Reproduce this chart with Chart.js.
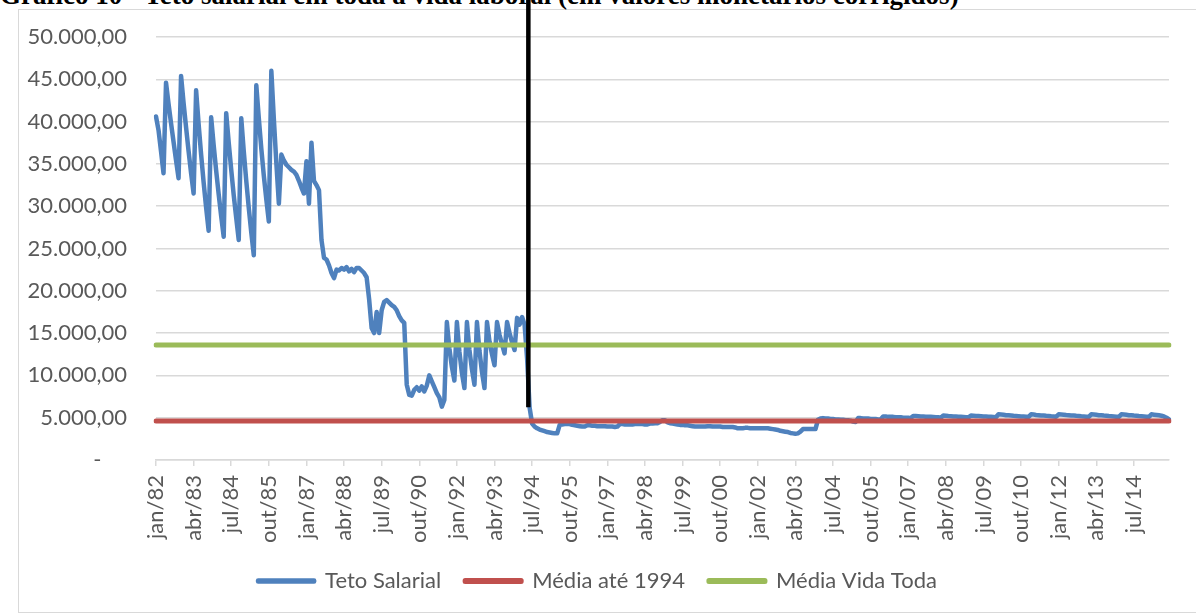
<!DOCTYPE html>
<html>
<head>
<meta charset="utf-8">
<script src="https://cdn.jsdelivr.net/npm/chart.js"></script>
<style>
  html, body { margin: 0; padding: 0; background: #fff; overflow: hidden; }
  #wrap { position: relative; width: 1196px; height: 614px; overflow: hidden; }
  #moldura { position: absolute; left: 18px; top: 9px; width: 1200px; height: 602px; border: 1px solid #d9d9d9; }
  #titulo { position: absolute; left: 0; top: -18px; font: bold 27px "Liberation Serif", "Times New Roman", serif; line-height: 27px; white-space: nowrap; color: #000; }
  #grafico { position: absolute; left: 0; top: 0; }
</style>
</head>
<body>
<div id="wrap">
  <div id="moldura"></div>
  <div id="titulo">Gráfico 10 - Teto salarial em toda a vida laboral (em valores monetários corrigidos)</div>
  <canvas id="grafico" width="1196" height="614"></canvas>
</div>
<script>
// meses do eixo x (jan/82 ... set/15)
const nomesMes = ['jan', 'fev', 'mar', 'abr', 'mai', 'jun', 'jul', 'ago', 'set', 'out', 'nov', 'dez'];
const anoInicial = 1982;

// teto salarial mensal, valores corrigidos, uma linha por ano
const tetoSalarial = [
  40600, 39000, 36500, 33900, 44600, 42100, 39800, 37600, 35400, 33300, 45400, 42200, // 1982
  39300, 36500, 33900, 31500, 43700, 39700, 36100, 32800, 29800, 27100, 40500, 37200, // 1983
  34200, 31400, 28800, 26400, 41000, 37500, 34300, 31300, 28600, 26000, 40400, 36500, // 1984
  33000, 29800, 26900, 24200, 44300, 40400, 36800, 33600, 30800, 28200, 46000, 40300, // 1985
  35100, 30300, 36100, 35400, 34900, 34600, 34300, 34100, 33700, 33000, 32200, 31500, // 1986
  35300, 30300, 37500, 33000, 32500, 31900, 26000, 23900, 23700, 23000, 22100, 21500, // 1987
  22500, 22400, 22700, 22500, 22800, 22300, 22600, 22200, 22700, 22700, 22400, 22100, // 1988
  21600, 19000, 15600, 15000, 17500, 15000, 17700, 18700, 18900, 18600, 18300, 18100, // 1989
  17700, 17000, 16500, 16200, 8900, 7700, 7600, 8300, 8600, 8200, 8700, 8100,         // 1990
  8800, 10000, 9300, 8600, 7900, 7400, 6300, 7100, 16300, 13200, 11000, 9400,         // 1991
  16300, 12800, 10300, 8500, 16300, 13000, 10700, 8900, 16300, 12900, 10400, 8500,     // 1992
  16300, 14000, 12500, 11200, 16300, 14800, 13700, 12600, 16300, 15000, 13900, 13000,  // 1993
  16800, 16000, 16900, 16000, 12000, 6200, 4300, 3950, 3750, 3600, 3500, 3400,         // 1994
  3300, 3250, 3200, 3150, 3150, 4150, 4200, 4250, 4250, 4250, 4150, 4100,             // 1995
  4050, 4000, 3950, 3950, 4100, 4100, 4050, 4050, 4000, 4000, 4000, 4000,             // 1996
  3950, 3950, 3950, 3900, 3950, 4250, 4250, 4200, 4200, 4200, 4200, 4250,             // 1997
  4250, 4250, 4250, 4200, 4200, 4300, 4300, 4350, 4350, 4500, 4700, 4700,             // 1998
  4450, 4350, 4300, 4250, 4200, 4150, 4150, 4100, 4100, 4050, 4000, 3950,             // 1999
  3950, 3950, 3950, 3950, 4000, 4000, 3950, 3950, 3950, 3950, 3900, 3900,             // 2000
  3900, 3900, 3900, 3850, 3750, 3750, 3750, 3800, 3800, 3750, 3750, 3750,             // 2001
  3750, 3750, 3750, 3750, 3750, 3700, 3650, 3600, 3550, 3450, 3400, 3350,             // 2002
  3300, 3200, 3150, 3100, 3150, 3350, 3650, 3650, 3650, 3650, 3650, 3650,             // 2003
  4750, 4900, 4950, 4900, 4900, 4850, 4850, 4800, 4800, 4750, 4750, 4700,             // 2004
  4700, 4650, 4550, 4500, 4950, 4950, 4900, 4900, 4900, 4850, 4850, 4850,             // 2005
  4800, 4800, 5150, 5150, 5100, 5100, 5100, 5050, 5050, 5050, 5000, 5000,             // 2006
  5000, 4950, 5200, 5200, 5180, 5150, 5150, 5120, 5100, 5100, 5080, 5050,             // 2007
  5050, 5000, 5250, 5230, 5200, 5180, 5150, 5150, 5120, 5100, 5080, 5050,             // 2008
  5050, 5250, 5230, 5200, 5200, 5180, 5150, 5150, 5120, 5100, 5080, 5050,             // 2009
  5400, 5380, 5350, 5300, 5280, 5250, 5220, 5200, 5180, 5150, 5130, 5100,             // 2010
  5100, 5400, 5370, 5330, 5300, 5270, 5250, 5220, 5200, 5170, 5150, 5120,             // 2011
  5400, 5380, 5350, 5320, 5300, 5270, 5250, 5220, 5200, 5170, 5150, 5120,             // 2012
  5100, 5400, 5370, 5340, 5300, 5280, 5250, 5230, 5200, 5180, 5150, 5120,             // 2013
  5100, 5400, 5370, 5340, 5300, 5280, 5250, 5230, 5200, 5180, 5150, 5120,             // 2014
  5100, 5400, 5360, 5320, 5280, 5230, 5150, 5000, 4800                                // 2015
];

// médias (linhas horizontais)
const mediaAte1994 = 4600;
const mediaVidaToda = 13600;

// marco vertical (Plano Real), entre mai/94 e jun/94
const marcoPosicao = 148.5;
const marcoValorInferior = 6250;

const meses = [];
for (let i = 0; i < tetoSalarial.length; i++) {
  const ano = anoInicial + Math.floor(i / 12);
  meses.push(nomesMes[i % 12] + '/' + String(ano).slice(2));
}

function formatarReais(v) {
  if (v === 0) return '-\u2007\u2007';
  return String(v).replace(/\B(?=(\d{3})+(?!\d))/g, '.') + ',00';
}

const linhaReal = {
  id: 'linhaReal',
  afterDatasetsDraw(chart) {
    const x = chart.scales.x.getPixelForValue(marcoPosicao);
    const yFim = chart.scales.y.getPixelForValue(marcoValorInferior);
    const c = chart.ctx;
    c.save();
    c.strokeStyle = '#000';
    c.lineWidth = 4.5;
    c.beginPath();
    c.moveTo(x, 0);
    c.lineTo(x, yFim);
    c.stroke();
    c.restore();
  }
};

const fonte = { family: 'Lato', size: 22 };

new Chart(document.getElementById('grafico'), {
  type: 'line',
  data: {
    labels: meses,
    datasets: [
      {
        label: 'Teto Salarial',
        data: tetoSalarial,
        borderColor: '#4F81BD',
        backgroundColor: '#4F81BD',
        borderWidth: 4.5,
        borderJoinStyle: 'round',
        borderCapStyle: 'round',
        pointRadius: 0,
        order: 3
      },
      {
        label: 'Média até 1994',
        data: [{ x: meses[0], y: mediaAte1994 }, { x: meses[meses.length - 1], y: mediaAte1994 }],
        borderColor: '#C0504D',
        backgroundColor: '#C0504D',
        borderWidth: 5,
        borderJoinStyle: 'round',
        borderCapStyle: 'round',
        pointRadius: 0,
        order: 2
      },
      {
        label: 'Média Vida Toda',
        data: [{ x: meses[0], y: mediaVidaToda }, { x: meses[meses.length - 1], y: mediaVidaToda }],
        borderColor: '#9BBB59',
        backgroundColor: '#9BBB59',
        borderWidth: 5,
        borderJoinStyle: 'round',
        borderCapStyle: 'round',
        pointRadius: 0,
        order: 1
      }
    ]
  },
  options: {
    responsive: false,
    animation: false,
    layout: { padding: { left: 26, right: 27, top: 37, bottom: 12 } },
    plugins: {
      legend: {
        position: 'bottom',
        labels: {
          font: fonte,
          color: '#595959',
          boxWidth: 56,
          boxHeight: 1,
          padding: 24,
          sort: (a, b) => a.datasetIndex - b.datasetIndex
        }
      },
      tooltip: { enabled: false }
    },
    scales: {
      x: {
        grid: { drawOnChartArea: false, drawTicks: true, tickLength: 6, color: '#D9D9D9', lineWidth: 1.5 },
        border: { color: '#D9D9D9', width: 1.5 },
        ticks: {
          autoSkip: false,
          minRotation: 90,
          maxRotation: 90,
          padding: 9,
          font: fonte,
          color: '#595959',
          callback: (v, i) => (i % 15 === 0 ? meses[i] : null)
        },
        afterFit: s => { s.height = 86; }
      },
      y: {
        min: 0,
        max: 50000,
        // marcas invisíveis: afastam os rótulos sem empurrar o topo da área
        grid: { color: '#D9D9D9', lineWidth: 1.5, drawTicks: true, tickLength: 10, tickColor: 'rgba(0,0,0,0)' },
        border: { display: false },
        ticks: { stepSize: 5000, padding: 19, font: fonte, color: '#595959', callback: v => formatarReais(v) },
        afterFit: s => { s.width = 130; }
      }
    }
  },
  plugins: [linhaReal]
});
</script>
</body>
</html>
